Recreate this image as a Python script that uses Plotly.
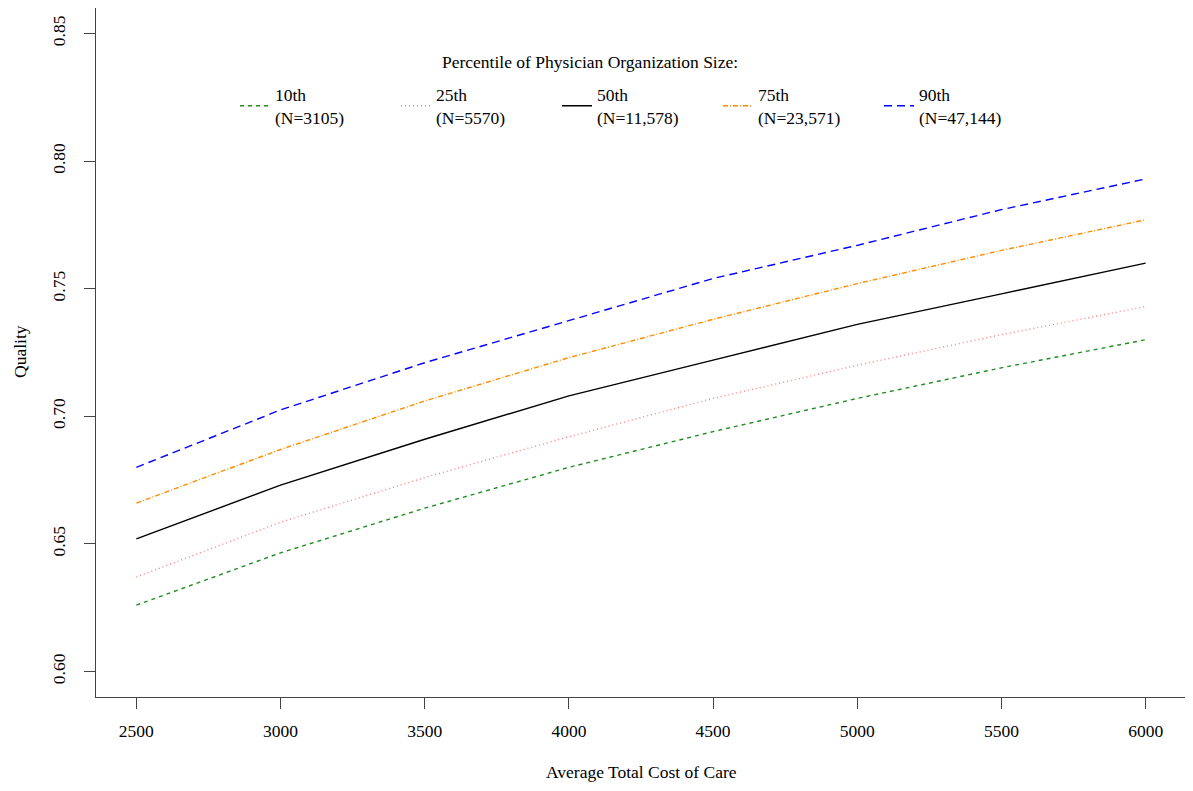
import plotly.graph_objects as go

cost = [2500, 3000, 3500, 4000, 4500, 5000, 5500, 6000]
q10 = [0.626, 0.6465, 0.664, 0.680, 0.694, 0.707, 0.719, 0.730]
q25 = [0.637, 0.6585, 0.676, 0.692, 0.707, 0.720, 0.732, 0.743]
q50 = [0.652, 0.673, 0.691, 0.708, 0.722, 0.736, 0.748, 0.760]
q75 = [0.666, 0.687, 0.706, 0.723, 0.738, 0.752, 0.765, 0.777]
q90 = [0.680, 0.7025, 0.721, 0.7375, 0.754, 0.767, 0.781, 0.793]

names = ["10th<br>(N=3105)", "25th<br>(N=5570)", "50th<br>(N=11,578)",
         "75th<br>(N=23,571)", "90th<br>(N=47,144)"]
series = [q10, q25, q50, q75, q90]
colors = ["#228B22", "#FF7F7F", "#000000", "#FF8C00", "#0000FF"]
dashes = ["4px,4px", "1px,3px", "solid", "5px,2px,1px,2px", "8px,5px"]

x_ticks = [2500, 3000, 3500, 4000, 4500, 5000, 5500, 6000]
y_ticks = [0.60, 0.65, 0.70, 0.75, 0.80, 0.85]

legend_title = "Percentile of Physician Organization Size:"
x_title = "Average Total Cost of Care"
y_title = "Quality"

FONT = "Liberation Serif"
FS = 17.5

# page body has an 8px margin; compensate so the plot box lands at 96..1186 x 8..697
OFF = 8
L, R, T, B = 88, 15, 0, 102
W, H = 1193, 791
PW, PH = W - L - R, H - T - B


def px_x(sx):
    return (sx - OFF - L) / PW


def px_y(sy):
    return 1 - (sy - OFF - T) / PH


fig = go.Figure()
for nm, ys, c, d in zip(names, series, colors, dashes):
    fig.add_trace(go.Scatter(x=cost, y=ys, mode="lines", name=nm,
                             line=dict(color=c, width=1.4, dash=d)))

fig.update_layout(
    width=W, height=H,
    margin=dict(l=L, r=R, t=T, b=B),
    paper_bgcolor="white", plot_bgcolor="white",
    font=dict(family=FONT, size=FS, color="black"),
    showlegend=True,
    legend=dict(
        orientation="h", x=px_x(235), y=px_y(106), xanchor="left", yanchor="middle",
        font=dict(family=FONT, size=FS),
        entrywidth=116, entrywidthmode="pixels",
        bgcolor="rgba(0,0,0,0)", itemwidth=30,
    ),
    xaxis=dict(
        range=[2360, 6140], tickvals=x_ticks, ticktext=[str(v) for v in x_ticks],
        showgrid=False, zeroline=False, showline=True, linecolor="#444", linewidth=1,
        mirror=True, ticks="outside", ticklen=11, tickcolor="#444",
        tickfont=dict(family=FONT, size=FS), ticklabelstandoff=7,
        automargin=False,
    ),
    yaxis=dict(
        range=[0.59, 0.86], tickvals=y_ticks, ticktext=["%.2f" % v for v in y_ticks],
        showgrid=False, zeroline=False, showline=True, linecolor="#444", linewidth=1,
        mirror=True, ticks="outside", ticklen=11, tickcolor="#444", tickangle=-90,
        tickfont=dict(family=FONT, size=FS), ticklabelstandoff=12,
        automargin=False,
    ),
    annotations=[
        dict(text=legend_title, xref="paper", yref="paper", x=px_x(590), y=px_y(62),
             xanchor="center", yanchor="middle", showarrow=False,
             font=dict(family=FONT, size=FS)),
        dict(text=x_title, xref="paper", yref="paper", x=px_x(641), y=px_y(772),
             xanchor="center", yanchor="middle", showarrow=False,
             font=dict(family=FONT, size=FS)),
        dict(text=y_title, xref="paper", yref="paper", x=px_x(20), y=px_y(352),
             xanchor="center", yanchor="middle", showarrow=False, textangle=-90,
             font=dict(family=FONT, size=FS)),
    ],
)

fig.write_html("out.html")
